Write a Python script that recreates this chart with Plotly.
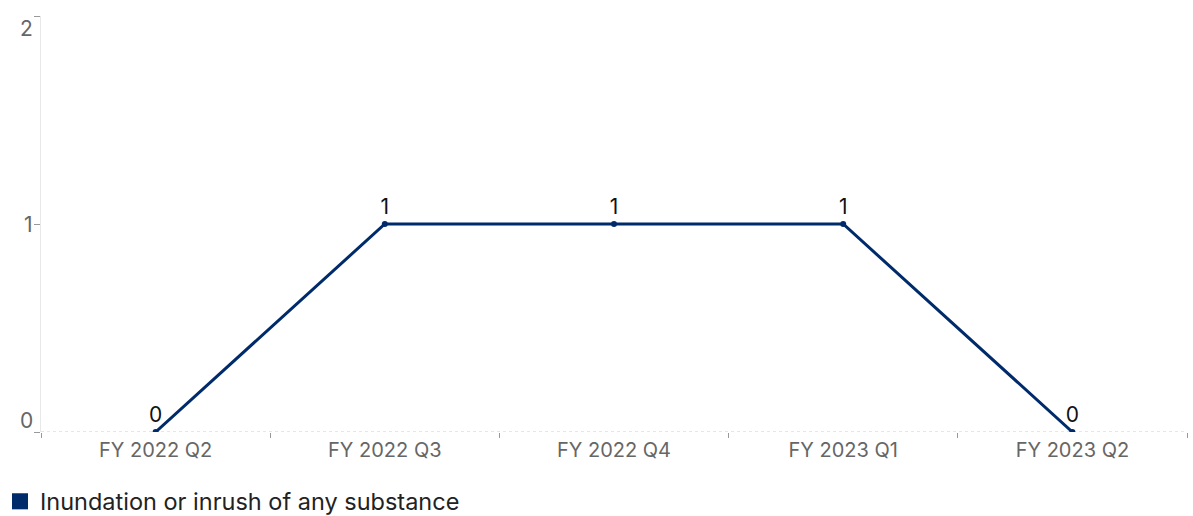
import plotly.graph_objects as go

categories = ["FY 2022 Q2", "FY 2022 Q3", "FY 2022 Q4", "FY 2023 Q1", "FY 2023 Q2"]
values = [0, 1, 1, 1, 0]
series_name = "Inundation or inrush of any substance"
y_ticks = [0, 1, 2]

NAVY = "#002b6b"
FONT = "Inter, Roboto, sans-serif"

fig = go.Figure()
fig.add_trace(go.Scatter(
    x=categories, y=values, mode="lines+markers+text",
    line=dict(color=NAVY, width=3),
    marker=dict(color=NAVY, size=6),
    text=[str(v) for v in values], textposition="top center",
    textfont=dict(size=21, color="#111111", family=FONT),
    showlegend=False, cliponaxis=True, hoverinfo="x+y",
))
fig.add_trace(go.Scatter(
    x=[None], y=[None], mode="markers", name=series_name,
    marker=dict(color=NAVY, size=16, symbol="square"),
    showlegend=True,
))

# dotted baseline
fig.add_shape(type="line", xref="paper", yref="y", x0=0, x1=1, y0=0, y1=0,
              line=dict(color="#cccccc", width=1, dash="dot"), layer="below")

# y tick labels kept inside the range
shifts = {0: 12, 1: 0, 2: -12}
for t in y_ticks:
    fig.add_annotation(x=0, xref="paper", y=t, yref="y", text=str(t),
                       showarrow=False, xanchor="right", xshift=-6, yshift=shifts[t],
                       font=dict(size=21, color="#666666", family=FONT))

fig.update_layout(
    width=1193, height=516,
    margin=dict(l=41, r=6, t=16, b=84),
    paper_bgcolor="white", plot_bgcolor="white",
    font=dict(family=FONT, color="#333333"),
    xaxis=dict(
        type="category", tickson="boundaries", ticks="outside", ticklen=5,
        tickcolor="#999999", showgrid=False, showline=False, zeroline=False,
        tickfont=dict(size=20, color="#666666", family=FONT),
        ticklabelstandoff=4,
        range=[-0.5, 4.5], automargin=False,
    ),
    yaxis=dict(
        range=[0, 2], tickvals=y_ticks, showticklabels=False, ticks="outside",
        ticklen=6, tickcolor="#999999", showgrid=False, zeroline=False,
        showline=True, linecolor="#e8e8e8", linewidth=1, automargin=False,
    ),
    legend=dict(orientation="h", xref="container", x=-0.004, xanchor="left",
                yref="container", y=0.028, yanchor="middle",
                font=dict(size=23.5, color="#222222", family=FONT)),
)

fig.write_html("out.html")
